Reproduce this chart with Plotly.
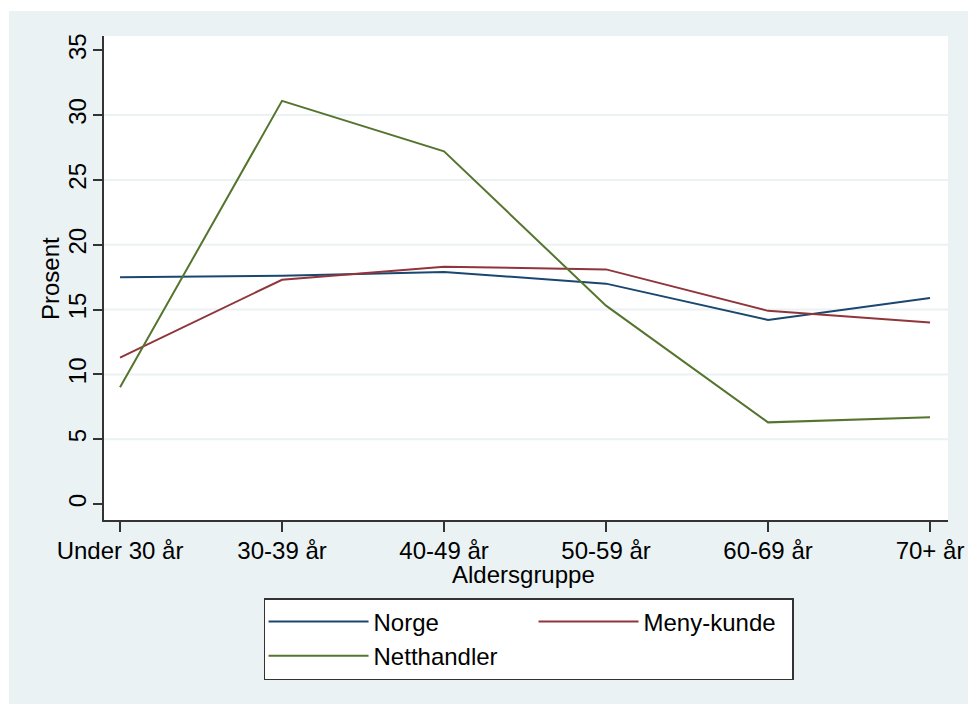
import plotly.graph_objects as go

categories = ["Under 30 år", "30-39 år", "40-49 år", "50-59 år", "60-69 år", "70+ år"]
norge = [17.5, 17.6, 17.9, 17.0, 14.2, 15.9]
meny_kunde = [11.3, 17.3, 18.3, 18.1, 14.9, 14.0]
netthandler = [9.0, 31.1, 27.2, 15.3, 6.3, 6.7]
y_ticks = [0, 5, 10, 15, 20, 25, 30, 35]
grid_vals = [5, 10, 15, 20, 25, 30]

FONT = "Liberation Sans, Arial, sans-serif"
BG = "#EAF2F3"

fig = go.Figure()
fig.add_trace(go.Scatter(x=categories, y=norge, mode="lines", name="Norge",
                         line=dict(color="#1a476f", width=2), legendgroup="a"))
fig.add_trace(go.Scatter(x=categories, y=meny_kunde, mode="lines", name="Meny-kunde",
                         line=dict(color="#90353b", width=2), legendgroup="b",
                         legendwidth=143))
fig.add_trace(go.Scatter(x=categories, y=netthandler, mode="lines", name="Netthandler",
                         line=dict(color="#55752f", width=2), legendgroup="a"))

shapes = [
    dict(type="rect", xref="paper", yref="paper", x0=-0.1126, x1=1.03, y0=-0.40, y1=1.0517,
         fillcolor=BG, line=dict(width=0), layer="below"),
    dict(type="rect", xref="paper", yref="paper", x0=0, x1=1, y0=0, y1=1,
         fillcolor="white", line=dict(width=0), layer="below"),
]
for g in grid_vals:
    shapes.append(dict(type="line", xref="paper", yref="y", x0=0, x1=1, y0=g, y1=g,
                       line=dict(color=BG, width=2), layer="below"))

annotations = [
    dict(text="Aldersgruppe", xref="paper", yref="paper", x=0.4976, y=-0.1136,
         xanchor="center", yanchor="middle", showarrow=False,
         font=dict(family=FONT, size=24, color="black")),
    dict(text="Prosent", xref="paper", yref="paper", x=-0.064, y=0.5,
         xanchor="center", yanchor="middle", textangle=-90, showarrow=False,
         font=dict(family=FONT, size=24, color="black")),
]

fig.update_layout(
    width=968, height=704,
    margin=dict(l=104, r=20, t=36, b=184),
    paper_bgcolor="white", plot_bgcolor="rgba(0,0,0,0)",
    font=dict(family=FONT, size=24, color="black"),
    shapes=shapes,
    annotations=annotations,
    showlegend=True,
    legend=dict(orientation="h", traceorder="grouped", x=0.503, xanchor="center",
                y=-0.1612, yanchor="top", bgcolor="white", bordercolor="#333333",
                borderwidth=1.5, itemwidth=100, entrywidth=155, entrywidthmode="pixels",
                font=dict(family=FONT, size=24, color="black")),
    xaxis=dict(type="category", range=[-0.099, 5.111], showgrid=False, zeroline=False,
               automargin=False,
               showline=True, linecolor="#333333", linewidth=1.5,
               ticks="outside", ticklen=10, tickwidth=1.5, tickcolor="#333333",
               ticklabelstandoff=-2,
               tickfont=dict(family=FONT, size=24, color="black")),
    yaxis=dict(range=[-1.23, 36.1], tickvals=y_ticks, showgrid=False, zeroline=False,
               automargin=False,
               showline=True, linecolor="#333333", linewidth=1.5,
               ticks="outside", ticklen=9, tickwidth=1.5, tickcolor="#333333",
               tickangle=-90, ticklabelstandoff=-2,
               tickfont=dict(family=FONT, size=24, color="black")),
)

fig.write_html("out.html", config={"displayModeBar": False},
               post_script="document.body.style.margin='0';")
